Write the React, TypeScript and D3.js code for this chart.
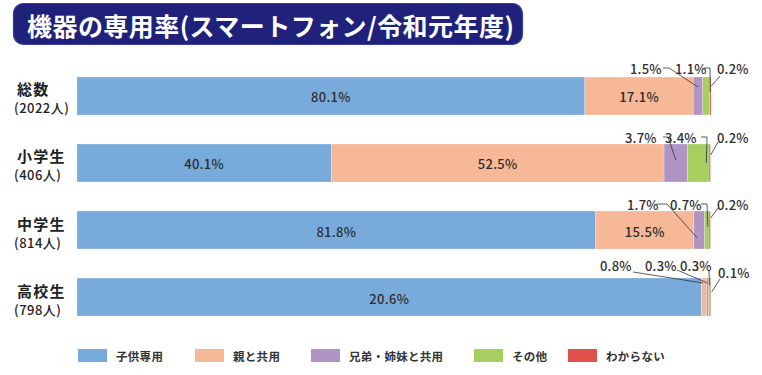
import React from "react";
import * as d3 from "d3";

const title = "機器の専用率(スマートフォン/令和元年度)";
const categories = ["総数", "小学生", "中学生", "高校生"];
const counts = ["(2022人)", "(406人)", "(814人)", "(798人)"];
const seriesNames = ["子供専用", "親と共用", "兄弟・姉妹と共用", "その他", "わからない"];
const seriesColors = ["#78aadb", "#f6b896", "#b094c4", "#a6cf5f", "#e0514b"];
// values per row: [子供専用, 親と共用, 兄弟・姉妹と共用, その他, わからない]
const values = [
  [80.1, 17.1, 1.5, 1.1, 0.2],
  [40.1, 52.5, 3.7, 3.4, 0.2],
  [81.8, 15.5, 1.7, 0.7, 0.2],
  [98.5, 0.8, 0.3, 0.3, 0.1],
];
// printed labels (as shown in the source)
const labels = [
  ["80.1%", "17.1%", "1.5%", "1.1%", "0.2%"],
  ["40.1%", "52.5%", "3.7%", "3.4%", "0.2%"],
  ["81.8%", "15.5%", "1.7%", "0.7%", "0.2%"],
  ["20.6%", "0.8%", "0.3%", "0.3%", "0.1%"],
];

type Ann = { row: number; seg: number; tx: number; ty: number; pts: [number, number][]; edx: number; edy: number };
const annotations: Ann[] = [
  { row: 0, seg: 2, tx: 630, ty: -9, pts: [[663, -9], [669, -9]], edx: 0, edy: 10 },
  { row: 0, seg: 3, tx: 675, ty: -9, pts: [[704, -9], [710, -9]], edx: 4, edy: 15 },
  { row: 0, seg: 4, tx: 717, ty: -9, pts: [[720, -1]], edx: 1, edy: 9 },
  { row: 1, seg: 2, tx: 625, ty: -7, pts: [[663, -7], [668, -7]], edx: 0, edy: 16 },
  { row: 1, seg: 3, tx: 665, ty: -7, pts: [[701, -7], [707, -7]], edx: 8, edy: 19 },
  { row: 1, seg: 4, tx: 717, ty: -7, pts: [[718, -2]], edx: 1, edy: 11 },
  { row: 2, seg: 2, tx: 627, ty: -7, pts: [[657, -7], [667, -7]], edx: -2, edy: 27 },
  { row: 2, seg: 3, tx: 670, ty: -7, pts: [[701, -7], [707, -7]], edx: 1, edy: 16 },
  { row: 2, seg: 4, tx: 717, ty: -7, pts: [[718, -3]], edx: 1, edy: 7 },
  { row: 3, seg: 1, tx: 600, ty: -13, pts: [[633, -6]], edx: -1, edy: 5 },
  { row: 3, seg: 2, tx: 645, ty: -13, pts: [[677, -8]], edx: 0, edy: 5 },
  { row: 3, seg: 3, tx: 680, ty: -13, pts: [[709, -7]], edx: 0, edy: 7 },
  { row: 3, seg: 4, tx: 718, ty: -6, pts: [[720, 1]], edx: 1, edy: 14 },
];

const legendX = [78, 195, 311, 474, 568];

const FONT = "'Noto Sans CJK JP', 'Noto Sans', sans-serif";

export default function App() {
  const W = 762, H = 375;
  const x = d3.scaleLinear().domain([0, 100]).range([77, 711]);
  const y = d3.scaleBand<string>().domain(categories).range([77, 316]).paddingInner(0.433).paddingOuter(0);
  const bw = y.bandwidth();

  const stacks = values.map((row) => {
    let acc = 0;
    return row.map((v) => {
      const s = acc;
      acc += v;
      return [s, acc];
    });
  });

  return (
    <svg width={W} height={H} style={{ position: "absolute", left: 0, top: 0, fontFamily: FONT }}>
      <rect x={0} y={0} width={W} height={H} fill="#fff" />
      <rect x={13.5} y={3.5} width={509} height={41} rx={10} fill="#1f217b" stroke="#3b3f9c" strokeWidth={1.2} />
      <text x={27} y={25} fill="#fff" fontSize={25} fontWeight={700} dominantBaseline="central" letterSpacing={0.45}>
        {title}
      </text>

      {categories.map((c, i) => {
        const top = y(c)!;
        const cy = top + bw / 2;
        return (
          <g key={c}>
            <text x={17} y={cy - 7} fontSize={15} fontWeight={700} fill="#222" dominantBaseline="central" letterSpacing={1.2}>
              {c}
            </text>
            <text x={14} y={cy + 12} fontSize={13} fontWeight={500} fill="#222" dominantBaseline="central" letterSpacing={0.5}>
              {counts[i]}
            </text>
            {stacks[i].map(([s, e], j) => (
              <rect key={j} x={x(s)} y={top} width={x(e) - x(s)} height={bw} fill={seriesColors[j]} stroke="#fff" strokeWidth={0.4} strokeOpacity={0.6} />
            ))}
            {stacks[i].map(([s, e], j) =>
              values[i][j] >= 10 ? (
                <text key={"l" + j} x={(x(s) + x(e)) / 2} y={cy + 1} fontSize={13} fontWeight={500} fill="#2e2e2e" textAnchor="middle" dominantBaseline="central" letterSpacing={0.3}>
                  {labels[i][j]}
                </text>
              ) : null
            )}
          </g>
        );
      })}

      {annotations.map((a, k) => {
        const top = y(categories[a.row])!;
        const [s, e] = stacks[a.row][a.seg];
        const ex = (x(s) + x(e)) / 2 + a.edx;
        const ey = top + a.edy;
        const pts: [number, number][] = [...a.pts.map(([px, py]) => [px, top + py] as [number, number]), [ex, ey]];
        const line = d3.line()(pts) || "";
        return (
          <g key={"a" + k}>
            <path d={line} fill="none" stroke="#333" strokeWidth={0.8} />
            <text x={a.tx} y={top + a.ty} fontSize={13} fontWeight={500} fill="#2e2e2e" dominantBaseline="central" letterSpacing={0.2}>
              {labels[a.row][a.seg]}
            </text>
          </g>
        );
      })}

      {seriesNames.map((n, i) => (
        <g key={n}>
          <rect x={legendX[i]} y={349} width={29} height={13} fill={seriesColors[i]} />
          <text x={legendX[i] + 38} y={356} fontSize={11.5} fontWeight={700} fill="#333" dominantBaseline="central" letterSpacing={0.3}>
            {n}
          </text>
        </g>
      ))}
    </svg>
  );
}
